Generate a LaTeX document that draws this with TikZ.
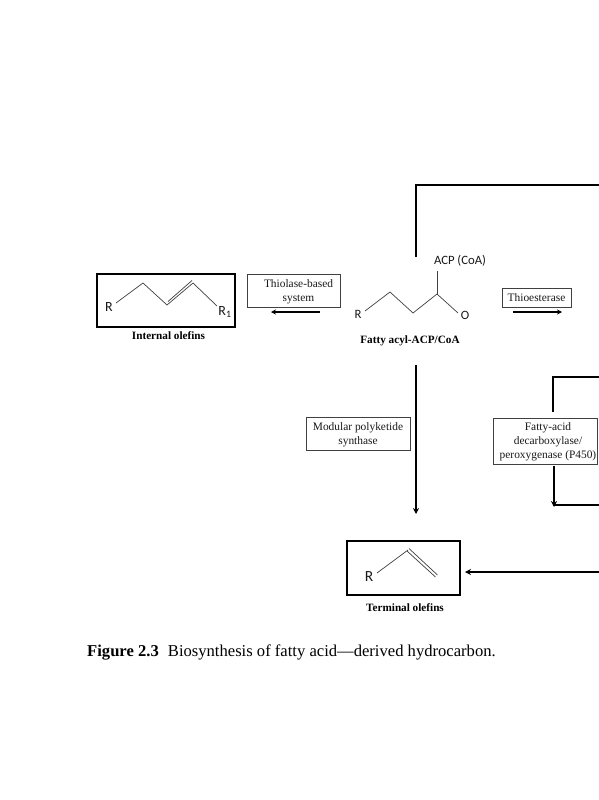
\documentclass[tikz,border=0pt]{standalone}
\usepackage{fontspec}
\setmainfont{Liberation Serif}
\newfontfamily\chemfont{Carlito}
\usetikzlibrary{arrows.meta}
\tikzset{
  olefinbox/.style={draw=black,line width=2pt,inner sep=0pt},
  enzymeframe/.style={draw=black!75,line width=0.7pt},
  enzymetext/.style={inner sep=0pt,align=center,font=\fontsize{11.4}{14}\selectfont,text=black!90},
  caplabel/.style={font=\fontsize{11.2}{12}\selectfont\bfseries,inner sep=0pt},
  atom/.style={font=\chemfont\fontsize{12.7}{13}\selectfont,inner sep=0pt,text=black!90},
  bigatom/.style={font=\chemfont\fontsize{14}{14}\selectfont,inner sep=0pt,text=black!90},
  bond/.style={draw=black!75,line width=0.7pt},
  bigline/.style={draw=black,line width=2pt},
  bigarrow/.style={bigline,-{Stealth[length=6pt,width=6pt]}},
  smallarrow/.style={draw=black,line width=1.4pt,-{Stealth[length=5pt,width=5pt]}}
}
\begin{document}
\begin{tikzpicture}[x=1pt,y=-1pt]
\useasboundingbox (0,0) rectangle (599,800);
\fill[white] (0,0) rectangle (599,800);
% internal olefins
\node[olefinbox,minimum width=138pt,minimum height=53pt] (ibox) at (166,300) {};
\node[bigatom] (iR) at (109,307) {R};
\node[bigatom] (iR1) at (225,312) {R\textsubscript{1}};
\coordinate (i1) at (143,283);\coordinate (i2) at (167,305);\coordinate (i3) at (193,283);
\draw[bond] (116,303) -- (i1) -- (i2) -- (i3) -- (217,306);
\draw[bond] (168,301.5) -- (192,280.5);
\node[caplabel] (ilabel) at (168.5,336) {Internal olefins};
% thiolase
\draw[enzymeframe] (247,274) rectangle (340,307);
\node[enzymetext] (thio) at (298.5,292) {Thiolase-based\\system};
\coordinate (ta) at (320,312);\coordinate (tb) at (271,312);
\draw[smallarrow] (ta) -- (tb);
% fatty acyl
\node[atom] (fR) at (358,314) {R};
\node[atom] (fO) at (465,315) {O};
\node[atom] (fA) at (460,261) {ACP (CoA)};
\coordinate (f1) at (390,292);\coordinate (f2) at (413,313);\coordinate (f3) at (437,294);
\draw[bond] (365,311) -- (f1) -- (f2) -- (f3) -- (458,313);
\draw[bond] (f3) -- (437,271);
\node[caplabel] (flabel) at (410,341) {Fatty acyl-ACP/CoA};
% thioesterase
\draw[enzymeframe] (502,288) rectangle (571,307);
\node[enzymetext] (thioe) at (536.5,298) {Thioesterase};
\coordinate (ea) at (513,312);\coordinate (eb) at (562,312);
\draw[smallarrow] (ea) -- (eb);
% top line
\coordinate (t0) at (415.5,257);\coordinate (t1) at (415.5,185);\coordinate (t2) at (599,185);
\draw[bigline,line join=miter] (t0) -- (t1) -- (t2);
% PKS
\draw[enzymeframe] (306,417) rectangle (410,450);
\node[enzymetext] (pks) at (358,435) {Modular polyketide\\synthase};
\coordinate (pa) at (416,365);\coordinate (pb) at (416,514);
\draw[bigarrow] (pa) -- (pb);
% P450
\draw[enzymeframe] (493,418) rectangle (597,464);
\node[enzymetext] (p450) at (548,442) {Fatty-acid\\decarboxylase/\\peroxygenase (P450)};
\coordinate (u0) at (553,412);\coordinate (u1) at (553,376.5);\coordinate (u2) at (599,376.5);
\draw[bigline] (u0) -- (u1) -- (u2);
\coordinate (d0) at (554,466);\coordinate (d1) at (554,507);\coordinate (d2) at (599,505);
\draw[bigarrow] (d0) -- (d1);
\draw[bigline] (553,505) -- (d2);
% terminal olefins
\node[olefinbox,minimum width=113pt,minimum height=54pt] (tbox) at (403.5,568) {};
\node[atom,font=\chemfont\fontsize{15.5}{16}\selectfont] (tR) at (369,577) {R};
\coordinate (c1) at (408,550);
\draw[bond] (377,573) -- (c1);
\draw[bond] (409,548.5) -- (437.5,575);
\draw[bond] (407,551) -- (435.5,577);
\node[caplabel] (tlabel) at (405,608) {Terminal olefins};
\coordinate (ra) at (599,572);\coordinate (rb) at (465,572);
\draw[bigarrow] (ra) -- (rb);
% caption
\node[anchor=base west,inner sep=0pt,font=\fontsize{16.6}{18}\selectfont] (cap) at (87,656) {\textbf{Figure 2.3}\hspace{0.55em}Biosynthesis of fatty acid\textemdash derived hydrocarbon.};
\end{tikzpicture}
\end{document}
